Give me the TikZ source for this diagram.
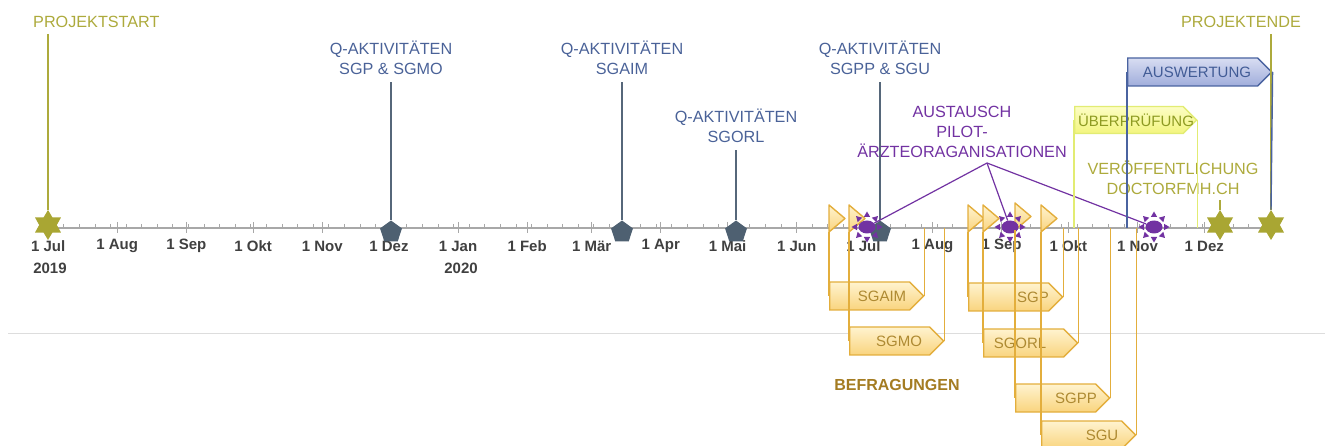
\documentclass[tikz,border=0pt]{standalone}
\usepackage{fontspec}
\setmainfont{Liberation Sans}
\usetikzlibrary{shapes.geometric,shapes.symbols}

\definecolor{pjolive}{HTML}{ADAA3C}
\definecolor{pjstar}{HTML}{A9A633}
\definecolor{qtext}{HTML}{4A6298}
\definecolor{qmark}{HTML}{4E6071}
\definecolor{qline}{HTML}{56677A}
\definecolor{austausch}{HTML}{7232A2}
\definecolor{fborder}{HTML}{E3AE3C}
\definecolor{ftop}{HTML}{FFF3CF}
\definecolor{fbot}{HTML}{F9D47E}
\definecolor{ftext}{HTML}{AE8A32}
\definecolor{befr}{HTML}{A47C22}
\definecolor{ueline}{HTML}{E2EC73}
\definecolor{uetop}{HTML}{FCFDC4}
\definecolor{uebot}{HTML}{F3F57E}
\definecolor{uetext}{HTML}{8E9B22}
\definecolor{ausline}{HTML}{4A63A0}
\definecolor{austop}{HTML}{D8DDF2}
\definecolor{ausbot}{HTML}{A0ADDB}
\definecolor{austext}{HTML}{425C96}
\definecolor{axisgray}{HTML}{A8A8A8}
\definecolor{sepgray}{HTML}{DDDDDD}
\definecolor{monthtext}{HTML}{404040}

\tikzset{
  txt/.style={font=\fontsize{15}{20}\selectfont, align=center, inner sep=2pt},
  bigtxt/.style={txt, font=\fontsize{16.2}{20}\selectfont},
  pjtxt/.style={bigtxt, text=pjolive, inner ysep=6pt},
  qtxt/.style={bigtxt, text=qtext, inner ysep=7pt},
  austxt/.style={bigtxt, text=austausch},
  monthlbl/.style={font=\fontsize{15}{18}\selectfont\bfseries, text=monthtext, inner sep=1pt},
  flagtxt/.style={txt, text=ftext},
  flagbox/.style={signal, signal to=east, draw=fborder, line width=1.3pt,
    top color=ftop, bottom color=fbot, minimum width=94pt, minimum height=28pt,
    inner sep=0pt, anchor=west},
  uebox/.style={flagbox, draw=ueline, top color=uetop, bottom color=uebot,
    minimum width=122pt, minimum height=27pt},
  ausbox/.style={flagbox, draw=ausline, top color=austop, bottom color=ausbot,
    minimum width=144pt},
  trimark/.style={draw=fborder, line width=1.4pt, line join=round, top color=ftop, bottom color=fbot},
  pentmark/.style={regular polygon, regular polygon sides=5, minimum size=23pt, inner sep=0pt, fill=qmark},
  sunmark/.style={ellipse, minimum width=17pt, minimum height=13pt, inner sep=0pt, fill=austausch},
  starmark/.style={star, star points=6, star point ratio=1.7, minimum size=30pt, inner sep=0pt, fill=pjstar},
  flagline/.style={draw=fborder, line width=1.3pt},
  qln/.style={draw=qline, line width=1.4pt},
  pjline/.style={draw=pjolive, line width=1.4pt},
}

\begin{document}
\begin{tikzpicture}[x=1pt,y=-1pt]
\useasboundingbox (0,0) rectangle (1331,446);

% Trennlinie
\draw[sepgray, line width=1pt] (8,334) -- (1325,334);

% Zeitachse
\coordinate (axisL) at (48,228);
\coordinate (axisR) at (1273,228);
\draw[axisgray, line width=2pt] (axisL) -- (axisR);
\foreach \d in {0,7,...,546}
  \draw[axisgray, line width=.9pt] ({48.2+2.2275*\d},224) -- ({48.2+2.2275*\d},228);
\foreach \d/\m in {0/1 Jul,31/1 Aug,62/1 Sep,92/1 Okt,123/1 Nov,153/1 Dez,184/1 Jan,215/1 Feb,244/1 Mär,
                   275/1 Apr,305/1 Mai,336/1 Jun,366/1 Jul,397/1 Aug,428/1 Sep,458/1 Okt,489/1 Nov,519/1 Dez}{
  \draw[axisgray, line width=.9pt] ({48.2+2.2275*\d},222) -- ({48.2+2.2275*\d},233);
  \node[monthlbl] (m\d) at ({48.2+2.2275*\d},246) {\m};
}
\node[monthlbl] (y2019) at (50,268) {2019};
\node[monthlbl] (y2020) at (461,268) {2020};

% Befragungen
\node[flagbox] (fAim) at (829,296) {};
\node[flagbox] (fMo) at (849,341) {};
\node[flagbox] (fSgp) at (968,297) {};
\node[flagbox] (fOrl) at (983,343) {};
\node[flagbox] (fPp) at (1015,398) {};
\node[flagbox] (fU) at (1041,435) {};
\node[flagtxt] (tAim) at (882,296) {SGAIM};
\node[flagtxt] (tMo) at (899,341) {SGMO};
\node[flagtxt] (tSgp) at (1033,297) {SGP};
\node[flagtxt] (tOrl) at (1020,343) {SGORL};
\node[flagtxt] (tPp) at (1076,398) {SGPP};
\node[flagtxt] (tU) at (1102,435) {SGU};
\node[font=\fontsize{16}{19}\selectfont\bfseries, text=befr] (befr) at (897,385) {BEFRAGUNGEN};

% Ueberpruefung und Auswertung
\node[uebox] (fUe) at (1074,120) {};
\node[txt, text=uetext] (tUe) at (1136,120) {ÜBERPRÜFUNG};
\node[ausbox] (fAus) at (1127,72) {};
\node[txt, text=austext] (tAus) at (1197,72) {AUSWERTUNG};

% Marker
\coordinate (trAim) at (829,232);
\coordinate (trMo) at (849,232);
\coordinate (trSgp) at (968,232);
\coordinate (trOrl) at (983,232);
\coordinate (trPp) at (1015,230);
\coordinate (trU) at (1041,232);
\foreach \t in {trAim,trMo,trSgp,trOrl,trPp,trU}
  \path[trimark] (\t) -- ++(0,-27) -- ++(16,13.5) -- cycle;

\node[pentmark] (pSgp) at (391,232) {};
\node[pentmark] (pAim) at (622,232) {};
\node[pentmark] (pOrl) at (736,232) {};
\node[pentmark] (pPpu) at (880,232) {};

\node[sunmark] (sunA) at (867,227) {};
\node[sunmark] (sunB) at (1010,227) {};
\node[sunmark] (sunC) at (1154,227) {};
\foreach \s in {sunA,sunB,sunC}
  \foreach \a in {0,45,...,315}
    \fill[austausch, shift={(\s)}, rotate=\a] (10,-3.2) -- (15.5,0) -- (10,3.2) -- cycle;

\node[starmark] (stStart) at (48,225) {};
\node[starmark] (stPub) at (1220,225) {};
\node[starmark] (stEnd) at (1271,225) {};

% Texte
\node[pjtxt, anchor=west] (txStart) at (31,22) {PROJEKTSTART};
\node[pjtxt] (txEnd) at (1241,22) {PROJEKTENDE};
\node[pjtxt, inner ysep=5pt] (txPub) at (1173,178) {VERÖFFENTLICHUNG\\DOCTORFMH.CH};
\node[qtxt] (qSgp) at (391,58) {Q-AKTIVITÄTEN\\SGP \& SGMO};
\node[qtxt] (qAim) at (622,58) {Q-AKTIVITÄTEN\\SGAIM};
\node[qtxt] (qOrl) at (736,126) {Q-AKTIVITÄTEN\\SGORL};
\node[qtxt] (qPpu) at (880,58) {Q-AKTIVITÄTEN\\SGPP \& SGU};
\node[austxt] (txAust) at (962,132) {AUSTAUSCH\\PILOT-\\ÄRZTEORAGANISATIONEN};
\coordinate (austP) at (987,163);

% Verbindungen
\draw[flagline] (trAim) -- (fAim.west);
\draw[flagline] (trMo) -- (fMo.west);
\draw[flagline] (trSgp) -- (fSgp.west);
\draw[flagline] (trOrl) -- (fOrl.west);
\draw[flagline] (trPp) -- (fPp.west);
\draw[flagline] (trU) -- (fU.west);
\draw[flagline] (fAim.east) -- (fAim.east |- axisL);
\draw[flagline] (fMo.east) -- (fMo.east |- axisL);
\draw[flagline] (fSgp.east) -- (fSgp.east |- axisL);
\draw[flagline] (fOrl.east) -- (fOrl.east |- axisL);
\draw[flagline] (fPp.east) -- (fPp.east |- axisL);
\draw[flagline] (fU.east) -- (fU.east |- axisL);

\draw[qln] (qSgp.south) -- (pSgp.north);
\draw[qln] (qAim.south) -- (pAim.north);
\draw[qln] (qOrl.south) -- (pOrl.north);
\draw[qln] (qPpu.south) -- (pPpu.north);

\draw[austausch, line width=1.2pt] (austP) -- (sunA);
\draw[austausch, line width=1.2pt] (austP) -- (sunB);
\draw[austausch, line width=1.2pt] (austP) -- (sunC);

\draw[pjline] (stStart.north |- txStart.south) -- (stStart.north);
\draw[pjline] (stEnd.north |- txEnd.south) -- (stEnd.north);
\draw[pjline] (stPub.north |- txPub.south) -- (stPub.north);

\draw[ueline, line width=1.4pt] (fUe.west) -- (fUe.west |- axisL);
\draw[ueline, line width=1.4pt] (fUe.east) -- (fUe.east |- axisL);
\draw[ausline, line width=1.4pt] (fAus.west) -- (fAus.west |- axisL);
\draw[ausline, line width=1.4pt] (fAus.east) -- (stEnd.north);
\end{tikzpicture}
\end{document}
